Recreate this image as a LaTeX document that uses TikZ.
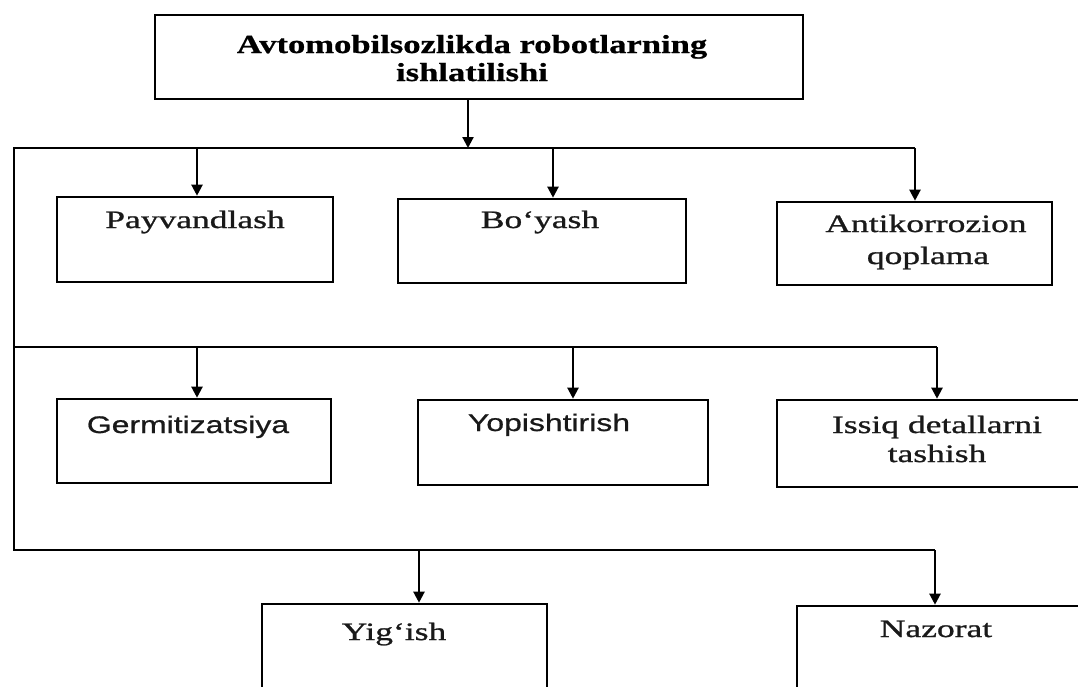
\documentclass[tikz,border=0pt]{standalone}
\usepackage{fontspec}
\setmainfont{Liberation Serif}
\newfontfamily\rmwide[FakeStretch=1.42,FakeBold=1]{Liberation Serif}
\newfontfamily\ttlwide[FakeStretch=1.33,FakeBold=0.8]{Liberation Serif}
\newfontfamily\sfwide[FakeStretch=1.33,FakeBold=0.8]{Liberation Sans}
\usetikzlibrary{arrows.meta}
\begin{document}
\begin{tikzpicture}[x=1pt,y=-1pt,
  box/.style={draw=black, line width=2.6pt, inner sep=0pt, fill=none},
  ln/.style={draw=black, line width=2.2pt},
  arr/.style={ln, -{Triangle[length=11pt,width=11pt]}},
  rtxt/.style={anchor=base, inner sep=0pt, text=black!90, font=\rmwide\fontsize{25}{30}\selectfont},
  stxt/.style={anchor=base, inner sep=0pt, text=black!90, font=\sfwide\fontsize{24}{29}\selectfont},
  ttxt/.style={anchor=base, inner sep=0pt, text=black, font=\ttlwide\bfseries\fontsize{26}{28}\selectfont}]
\useasboundingbox (0,0) rectangle (1078,686);
\clip (0,0) rectangle (1078,686);
\fill[white] (0,0) rectangle (1078,686);

% boxes
\node[box, minimum width=648pt, minimum height=84pt] (title) at (479,57) {};
\node[box, minimum width=276pt, minimum height=85pt] (pay) at (195,239.5) {};
\node[box, minimum width=288pt, minimum height=84pt] (boy) at (542,241) {};
\node[box, minimum width=275pt, minimum height=83pt] (anti) at (914.5,243.5) {};
\node[box, minimum width=274pt, minimum height=84pt] (germ) at (194,441) {};
\node[box, minimum width=290pt, minimum height=85pt] (yop) at (563,442.5) {};
\node[box, minimum width=323pt, minimum height=87pt] (issiq) at (938.5,443.5) {};
\node[box, minimum width=285pt, minimum height=110pt] (yig) at (404.5,659) {};
\node[box, minimum width=320pt, minimum height=110pt] (naz) at (957,661) {};

% texts
\node[ttxt] (t1) at (472,53) {Avtomobilsozlikda robotlarning};
\node[ttxt] (t2) at (472,81) {ishlatilishi};
\node[rtxt] (tpay) at (195,228) {Payvandlash};
\node[rtxt] (tboy) at (540,228) {Bo‘yash};
\node[rtxt] (ta1) at (926,232) {Antikorrozion};
\node[rtxt] (ta2) at (928,264) {qoplama};
\node[stxt] (tgerm) at (188,433) {Germitizatsiya};
\node[stxt] (tyop) at (549,431) {Yopishtirish};
\node[rtxt] (ti1) at (937,433) {Issiq detallarni};
\node[rtxt] (ti2) at (937,462) {tashish};
\node[rtxt] (tyig) at (394,640) {Yig‘ish};
\node[rtxt] (tnaz) at (936,637) {Nazorat};

% bus coordinates
\coordinate (c0) at (468,148);
\coordinate (b1l) at (14,148);
\coordinate (b1a) at (197,148);
\coordinate (b1b) at (553,148);
\coordinate (b1c) at (915,148);
\coordinate (b2l) at (14,347);
\coordinate (b2a) at (197,347);
\coordinate (b2b) at (573,347);
\coordinate (b2c) at (937,347);
\coordinate (b3l) at (14,550);
\coordinate (b3a) at (419,550);
\coordinate (b3b) at (935,550);

% connectors
\draw[arr] (c0 |- title.south) -- (c0);
\draw[ln, line join=miter] (b1c) -- (b1l) -- (b3l) -- (b3b);
\draw[ln] (b2l) -- (b2c);
\draw[arr] (b1a) -- (b1a |- pay.north);
\draw[arr] (b1b) -- (b1b |- boy.north);
\draw[arr] (b1c) -- (b1c |- anti.north);
\draw[arr] (b2a) -- (b2a |- germ.north);
\draw[arr] (b2b) -- (b2b |- yop.north);
\draw[arr] (b2c) -- (b2c |- issiq.north);
\draw[arr] (b3a) -- (b3a |- yig.north);
\draw[arr] (b3b) -- (b3b |- naz.north);
\end{tikzpicture}
\end{document}
